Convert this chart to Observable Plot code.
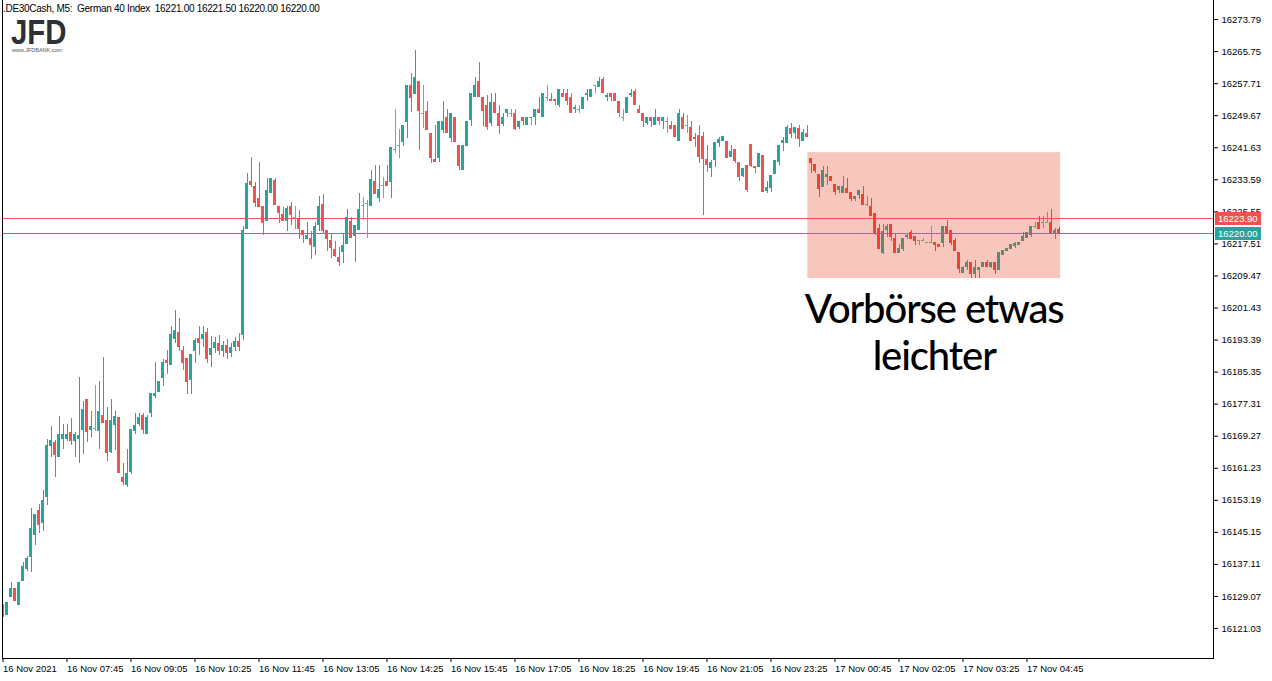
<!DOCTYPE html>
<html><head><meta charset="utf-8">
<script src="https://cdn.jsdelivr.net/npm/d3@7"></script>
<script src="https://cdn.jsdelivr.net/npm/@observablehq/plot@0.6"></script>
<style>
html,body{margin:0;padding:0;background:#fff;}
#wrap{position:relative;width:1272px;height:681px;overflow:hidden;}
#hdr{position:absolute;left:3px;top:3px;font:10px "Liberation Sans",sans-serif;letter-spacing:-0.3px;color:#000;white-space:pre;}
#logo{position:absolute;left:11px;top:19px;color:#2f3033;font:bold 35px "Liberation Sans",sans-serif;line-height:25px;height:25px;transform:scaleX(0.84);transform-origin:0 0;}
#logo2{position:absolute;left:12px;top:47px;color:#555;font:5.5px "Liberation Sans",sans-serif;line-height:6px;}
</style></head>
<body><div id="wrap"><div id="chart"></div>
<div id="hdr"></div><div id="logo">JFD</div><div id="logo2">www.JFDBANK.com</div></div>
<script>
// ---- data (5-minute bars, .DE30Cash) ----
const open = [16127.1,16124.3,16128.8,16131.1,16126.8,16132.8,16135.8,16138.9,16144.4,16150.7,16147.4,16153.9,16166.7,16167.7,16163.9,16168.5,16168.5,16170.2,16168.0,16168.5,16170.7,16178.5,16170.7,16171.2,16170.5,16174.5,16173.2,16165.2,16172.0,16174.0,16158.9,16156.9,16160.2,16170.5,16172.2,16174.5,16169.7,16175.0,16179.2,16180.2,16183.8,16188.3,16187.0,16193.5,16195.3,16190.8,16188.8,16183.3,16190.5,16193.8,16193.5,16195.3,16189.5,16191.3,16192.5,16190.5,16192.0,16190.0,16191.5,16193.0,16194.5,16221.1,16233.2,16231.9,16228.9,16226.9,16223.1,16230.2,16233.4,16226.9,16224.9,16223.1,16226.9,16224.1,16223.6,16220.9,16218.6,16218.9,16216.6,16222.1,16227.4,16220.9,16218.4,16216.1,16214.1,16215.4,16217.4,16223.1,16219.4,16220.9,16227.2,16227.7,16226.9,16233.2,16228.9,16232.2,16233.2,16232.9,16241.2,16242.2,16242.9,16247.9,16257.2,16254.9,16258.2,16250.2,16250.7,16245.2,16238.7,16238.9,16245.9,16249.2,16243.9,16249.2,16242.2,16235.9,16241.9,16248.5,16254.2,16258.2,16254.2,16252.2,16247.7,16252.9,16250.2,16247.4,16250.2,16250.2,16250.2,16246.7,16249.2,16247.2,16249.2,16249.2,16251.2,16249.2,16254.2,16253.7,16253.7,16252.2,16255.2,16255.2,16254.2,16251.2,16251.2,16251.2,16254.7,16254.2,16257.2,16256.7,16258.7,16254.2,16255.2,16255.2,16253.2,16249.2,16250.2,16254.7,16255.7,16251.2,16250.2,16247.7,16249.2,16247.2,16249.2,16248.2,16248.2,16247.2,16247.2,16243.2,16249.2,16247.2,16246.7,16244.2,16244.7,16244.4,16238.7,16236.4,16238.4,16242.7,16243.2,16243.2,16239.2,16241.2,16237.9,16234.4,16237.2,16242.4,16236.9,16236.7,16239.7,16230.7,16231.4,16234.9,16237.9,16242.7,16242.7,16246.4,16245.2,16246.4,16243.2,16245.2,16238.9,16237.4,16234.9,16231.7,16234.2,16234.4,16232.4,16230.9,16230.2,16231.4,16230.4,16228.7,16229.7,16229.9,16227.4,16226.9,16225.1,16221.4,16215.1,16220.9,16222.4,16218.9,16215.1,16216.1,16219.1,16220.4,16219.4,16218.4,16218.4,16217.9,16217.9,16217.9,16217.4,16217.6,16221.9,16220.9,16218.4,16215.4,16210.1,16211.6,16212.9,16209.9,16210.9,16211.6,16212.9,16211.6,16212.9,16210.9,16214.6,16215.6,16216.1,16216.9,16217.1,16218.1,16218.9,16219.6,16221.9,16222.9,16222.9,16222.9,16222.9,16220.1,16221.0];
const high = [16127.1,16127.6,16132.6,16131.1,16132.6,16137.6,16139.1,16151.2,16149.7,16152.2,16155.7,16168.5,16171.7,16168.2,16174.2,16172.2,16172.2,16173.7,16170.2,16184.0,16178.0,16178.5,16175.5,16182.0,16183.0,16189.0,16176.5,16178.5,16175.5,16174.0,16162.4,16165.9,16171.0,16175.0,16175.0,16175.0,16174.5,16180.0,16187.8,16183.0,16188.5,16190.8,16196.8,16200.8,16198.8,16191.8,16188.8,16189.8,16193.8,16196.8,16196.8,16196.3,16194.3,16194.0,16194.5,16193.0,16193.5,16192.5,16194.0,16195.0,16221.9,16235.2,16239.2,16232.9,16237.9,16226.9,16233.9,16233.9,16233.9,16226.9,16226.6,16226.9,16227.9,16226.9,16225.9,16220.9,16222.9,16220.6,16222.9,16229.4,16229.9,16220.9,16219.9,16218.1,16216.6,16219.9,16226.1,16224.1,16222.1,16230.2,16229.2,16228.4,16235.9,16237.2,16237.2,16234.2,16237.2,16241.7,16251.2,16246.2,16247.2,16257.2,16260.2,16266.0,16258.2,16257.2,16253.2,16245.2,16247.2,16248.2,16253.2,16251.2,16250.2,16249.2,16242.2,16242.2,16248.2,16255.2,16259.2,16263.0,16254.2,16254.7,16255.2,16255.2,16252.2,16250.2,16251.2,16251.2,16251.2,16248.2,16249.2,16249.2,16249.2,16251.2,16254.2,16255.2,16257.2,16255.2,16253.7,16256.2,16256.2,16256.2,16255.2,16252.2,16252.2,16254.2,16256.2,16256.2,16257.2,16259.2,16259.2,16255.2,16255.2,16255.2,16253.2,16251.2,16254.2,16256.2,16256.2,16252.2,16250.2,16249.2,16249.2,16251.2,16249.2,16249.2,16249.2,16248.2,16247.2,16251.2,16250.2,16249.7,16248.2,16245.2,16247.2,16245.4,16242.2,16238.4,16242.9,16244.2,16244.4,16243.2,16242.2,16241.2,16237.9,16236.4,16237.2,16242.4,16236.9,16240.2,16239.7,16233.2,16234.7,16238.4,16242.2,16244.2,16247.2,16247.7,16246.7,16247.2,16246.2,16247.2,16238.9,16237.4,16234.9,16236.9,16236.9,16234.4,16232.4,16231.9,16234.4,16233.9,16230.4,16229.4,16230.9,16231.9,16229.4,16228.9,16225.1,16222.4,16222.4,16222.4,16222.4,16219.9,16217.4,16218.9,16220.1,16220.9,16219.4,16218.4,16218.9,16217.9,16221.9,16217.9,16217.4,16221.9,16223.4,16220.9,16218.9,16215.4,16211.9,16213.4,16212.9,16213.4,16211.6,16212.9,16213.4,16212.9,16212.9,16215.4,16215.9,16216.4,16217.4,16217.9,16217.9,16220.4,16220.4,16221.9,16222.9,16224.4,16224.4,16225.4,16226.1,16221.4,16221.5];
const low = [16123.8,16124.3,16128.8,16127.8,16126.8,16132.8,16135.3,16135.1,16141.9,16144.9,16145.4,16151.9,16163.9,16158.9,16163.9,16165.9,16168.0,16167.0,16163.9,16162.4,16164.7,16167.7,16169.0,16170.5,16165.9,16172.5,16162.9,16164.9,16165.7,16159.9,16156.9,16156.4,16159.7,16169.7,16171.7,16169.7,16169.7,16174.0,16178.7,16180.2,16181.8,16184.8,16187.0,16192.5,16190.5,16185.8,16179.7,16179.7,16187.5,16189.5,16191.5,16187.5,16186.5,16190.0,16189.5,16189.0,16188.5,16189.0,16190.5,16190.5,16193.3,16221.1,16231.7,16226.6,16226.6,16219.6,16223.1,16230.2,16227.2,16222.6,16223.1,16220.6,16222.1,16221.1,16218.6,16217.6,16218.6,16213.6,16214.6,16220.6,16220.1,16215.6,16213.9,16214.1,16211.9,16212.6,16217.4,16218.9,16212.9,16220.9,16223.4,16218.9,16226.9,16229.9,16227.9,16228.9,16231.9,16228.9,16240.2,16238.9,16241.9,16244.0,16250.5,16254.9,16240.9,16246.4,16245.9,16237.7,16237.9,16237.9,16245.2,16245.2,16242.9,16242.9,16235.9,16235.9,16241.9,16246.9,16254.2,16254.2,16246.9,16245.9,16246.9,16250.2,16244.9,16246.9,16249.2,16249.2,16245.9,16246.2,16247.2,16247.2,16247.2,16247.2,16250.2,16249.2,16253.2,16253.2,16252.2,16251.7,16254.2,16252.2,16250.2,16250.2,16250.2,16251.2,16253.2,16254.2,16255.2,16256.7,16255.2,16253.2,16253.2,16253.2,16249.2,16248.2,16250.2,16254.2,16252.2,16250.2,16246.7,16247.2,16246.7,16247.2,16247.2,16246.2,16245.2,16246.2,16244.2,16243.2,16246.2,16245.2,16243.2,16241.7,16237.7,16224.6,16235.4,16234.2,16236.7,16241.7,16243.2,16238.9,16239.2,16237.7,16233.2,16234.2,16230.4,16236.7,16235.2,16236.7,16230.4,16230.2,16230.4,16234.9,16237.2,16240.7,16242.7,16243.9,16243.7,16241.7,16243.2,16244.2,16235.2,16235.2,16229.2,16231.7,16232.2,16233.2,16229.7,16230.2,16230.2,16230.2,16228.2,16228.2,16228.7,16227.2,16226.9,16224.4,16219.6,16216.1,16214.9,16219.1,16218.1,16215.1,16215.1,16215.6,16218.6,16218.6,16217.1,16217.1,16218.4,16217.9,16217.9,16215.6,16216.6,16216.6,16220.1,16217.1,16215.6,16210.1,16210.1,16210.9,16208.9,16208.9,16208.9,16211.6,16211.6,16211.4,16209.9,16210.9,16214.6,16215.6,16216.1,16216.4,16217.1,16218.1,16218.9,16219.1,16221.4,16221.1,16221.4,16222.9,16220.1,16218.6,16220.0];
const close = [16123.8,16127.6,16131.1,16127.8,16132.6,16136.6,16138.6,16146.1,16149.7,16146.9,16153.2,16166.9,16168.2,16164.4,16169.7,16169.7,16169.7,16168.0,16169.7,16169.5,16176.0,16170.2,16171.7,16171.2,16175.5,16172.5,16164.9,16173.2,16174.2,16159.9,16157.7,16159.9,16171.0,16172.0,16174.0,16170.7,16174.0,16180.0,16180.0,16183.0,16187.8,16187.5,16194.8,16195.8,16191.5,16187.5,16182.8,16189.8,16193.3,16192.5,16194.8,16188.5,16191.3,16192.8,16190.5,16192.0,16190.0,16191.5,16193.0,16191.5,16220.9,16232.7,16232.2,16227.7,16226.6,16222.6,16230.9,16233.9,16227.2,16225.1,16223.1,16226.4,16224.6,16224.1,16221.1,16219.6,16219.6,16217.1,16221.9,16226.9,16220.6,16218.6,16216.4,16214.4,16212.9,16217.1,16224.1,16218.9,16222.1,16226.1,16227.2,16227.7,16233.7,16229.9,16231.2,16232.2,16231.9,16241.7,16241.2,16242.2,16247.2,16257.2,16253.9,16259.2,16250.7,16250.2,16245.9,16238.9,16237.9,16248.2,16248.2,16245.2,16250.2,16242.9,16236.9,16242.2,16248.2,16255.2,16257.2,16254.2,16250.7,16246.7,16252.9,16250.2,16246.9,16249.2,16251.2,16250.2,16246.2,16248.2,16248.2,16249.2,16249.2,16251.2,16250.2,16255.2,16254.2,16253.2,16253.2,16256.2,16254.2,16253.2,16250.2,16251.7,16251.2,16254.2,16255.2,16256.2,16257.2,16258.2,16255.2,16254.7,16254.2,16253.2,16250.2,16249.2,16254.2,16255.2,16252.2,16250.2,16248.2,16249.2,16248.2,16249.2,16248.2,16249.2,16248.2,16246.2,16244.2,16250.2,16246.2,16247.2,16243.2,16243.7,16239.2,16238.7,16237.2,16237.9,16242.9,16243.7,16244.4,16238.9,16240.7,16238.2,16234.2,16236.4,16230.9,16236.9,16236.4,16240.2,16230.4,16231.7,16234.7,16238.4,16242.2,16243.4,16246.7,16244.9,16246.7,16243.7,16245.4,16244.2,16237.7,16235.7,16231.2,16235.9,16234.9,16233.2,16230.4,16231.9,16231.9,16230.2,16228.7,16229.4,16230.9,16227.2,16227.4,16224.4,16220.1,16216.1,16220.6,16221.9,16219.1,16215.1,16216.4,16218.9,16219.6,16218.6,16218.1,16218.4,16218.4,16217.9,16217.9,16217.1,16216.6,16221.9,16220.1,16217.6,16215.6,16211.1,16211.6,16212.9,16209.9,16211.6,16211.6,16212.9,16211.6,16212.9,16210.9,16215.4,16215.9,16216.4,16217.4,16217.6,16217.9,16219.4,16220.4,16221.9,16221.9,16221.1,16222.9,16222.9,16220.1,16220.9,16220.0];

const yTicks = [16273.79,16265.75,16257.71,16249.67,16241.63,16233.59,16225.55,16217.51,16209.47,16201.43,16193.39,16185.35,16177.31,16169.27,16161.23,16153.19,16145.15,16137.11,16129.07,16121.03];
const xTickBars = [0,16,32,48,64,80,96,112,128,144,160,176,192,208,224,240,256];
const xTickLabels = ["16 Nov 2021","16 Nov 07:45","16 Nov 09:05","16 Nov 10:25","16 Nov 11:45","16 Nov 13:05","16 Nov 14:25","16 Nov 15:45","16 Nov 17:05","16 Nov 18:25","16 Nov 19:45","16 Nov 21:05","16 Nov 23:25","17 Nov 00:45","17 Nov 02:05","17 Nov 03:25","17 Nov 04:45"];
const askPrice = 16223.90;
const bidPrice = 16220.00;
const highlightBars = [201.2, 264.4];
const highlightPrices = [16208.8, 16240.4];
const annotationText = "Vorbörse etwas\nleichter";
const header = ".DE30Cash, M5:  German 40 Index  16221.00 16221.50 16220.00 16220.00";

// ---- build ----
const UP = "#26a69a", DOWN = "#ef5350", DOJI = "#5cb88a";
const UP_IN = "#5d8a6e", DOWN_IN = "#ec4333", DOJI_IN = "#7c9a68";
const candles = open.map((o, i) => ({i, open: o, high: high[i], low: low[i], close: close[i]}));
const inBox = d => d.i >= highlightBars[0];
const col = d => d.close > d.open ? (inBox(d) ? UP_IN : UP) : d.close < d.open ? (inBox(d) ? DOWN_IN : DOWN) : (inBox(d) ? DOJI_IN : DOJI);
const priceLines = [{price: askPrice, color: DOWN}, {price: bidPrice, color: UP}];
const box = [{x1: highlightBars[0], x2: highlightBars[1], y1: highlightPrices[0], y2: highlightPrices[1]}];
const bodies = candles.filter(d => d.open !== d.close);
const dojis = candles.filter(d => d.open === d.close);

document.getElementById("hdr").textContent = header;

// price lines + their right-axis tags, drawn with the y scale
function priceLineMark(index, scales, values, dim) {
  const g = d3.create("svg:g");
  const xl = dim.marginLeft, xr = dim.width - dim.marginRight;
  for (const L of priceLines) {
    const yy = Math.round(scales.y(L.price)) + 0.5;
    g.append("line").attr("x1", xl).attr("x2", xr).attr("y1", yy).attr("y2", yy)
      .attr("stroke", L.color).attr("stroke-width", 1).attr("shape-rendering", "crispEdges");
  }
  return g.node();
}
function priceTagMark(index, scales, values, dim) {
  const g = d3.create("svg:g").attr("font-family", "'Liberation Sans', sans-serif").attr("font-size", 9.5).attr("text-anchor", "start");
  const x0 = dim.width - dim.marginRight + 2;
  for (const L of priceLines) {
    const yy = Math.round(scales.y(L.price));
    g.append("rect").attr("x", x0).attr("y", yy - 6).attr("width", 46).attr("height", 13).attr("fill", L.color);
    g.append("text").attr("x", x0 + 3).attr("y", yy + 0.5).attr("dy", "0.35em").attr("fill", "#fff").text(L.price.toFixed(2));
  }
  return g.node();
}

const chart = Plot.plot({
  width: 1272, height: 681,
  marginLeft: 2, marginRight: 59, marginTop: 0, marginBottom: 23,
  x: {type: "linear", domain: [-0.125, 302.625], axis: null},
  y: {domain: [16113.52, 16278.56], axis: null},
  style: {fontFamily: "'Liberation Sans', sans-serif", fontSize: "9.5px", color: "#000", background: "#fff"},
  marks: [
    Plot.rect(box, {x1: "x1", x2: "x2", y1: "y1", y2: "y2", fill: "#f7c7bd"}),
    priceLineMark,
    Plot.ruleX(candles, {x: "i", y1: "low", y2: "high", stroke: col, strokeWidth: 1, shapeRendering: "crispEdges", clip: true}),
    Plot.rect(bodies, {x1: d => d.i - 0.375, x2: d => d.i + 0.375, y1: "open", y2: "close", fill: col, shapeRendering: "crispEdges", clip: true}),
    Plot.ruleY(dojis, {y: "open", x1: d => d.i - 0.375, x2: d => d.i + 0.375, stroke: col, strokeWidth: 1, shapeRendering: "crispEdges", clip: true}),
    Plot.text([annotationText], {
      x: () => (highlightBars[0] + highlightBars[1]) / 2, y: () => highlightPrices[0],
      text: d => d, lineAnchor: "top", dy: 11, fontSize: 40, fontFamily: "Lato", fontWeight: 500, lineHeight: 1.17, fill: "#000"
    }),
    Plot.axisY({anchor: "right", ticks: yTicks, tickFormat: d => d.toFixed(2), tickSize: 4, tickPadding: 4, fontSize: 9.5}),
    Plot.axisX({anchor: "bottom", ticks: xTickBars, tickFormat: d => xTickLabels[xTickBars.indexOf(d)], tickSize: 4, tickPadding: 3, textAnchor: "start", dx: 0, fontSize: 9.5}),
    Plot.frame({anchor: "right", stroke: "#000", shapeRendering: "crispEdges"}),
    Plot.frame({anchor: "bottom", stroke: "#000", shapeRendering: "crispEdges"}),
    Plot.frame({anchor: "left", stroke: "#000", shapeRendering: "crispEdges"}),
    priceTagMark
  ]
});
// tighten the annotation's letter spacing to match the narrower original face
for (const t of chart.querySelectorAll("text")) {
  if (t.textContent.includes("Vorbörse")) t.setAttribute("letter-spacing", "-1.1");
}
document.getElementById("chart").appendChild(chart);
</script></body></html>
